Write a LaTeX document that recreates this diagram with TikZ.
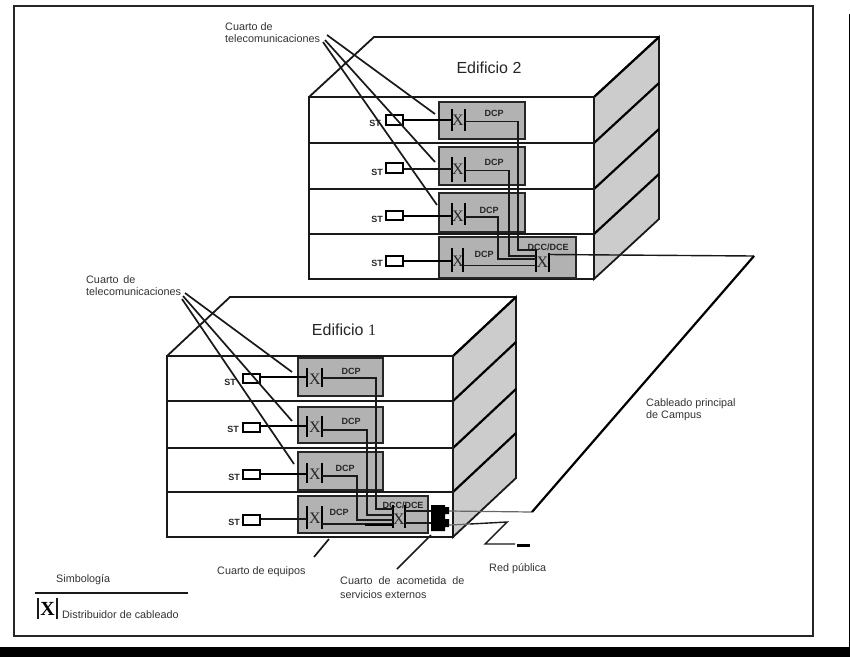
\documentclass[tikz,border=0pt]{standalone}
\usepackage{fontspec}
\setmainfont{Liberation Sans}
\newfontfamily\serifx{Liberation Serif}
\tikzset{
  lab/.style={inner sep=0pt,anchor=west,font=\fontsize{10.8}{12}\selectfont,text=black!80},
  frameline/.style={line width=2pt,draw=black!85},
  outline/.style={line width=1.8pt,draw=black!90},
  diag/.style={line width=2.2pt,draw=black},
  side/.style={outline,fill=black!20},
  roombox/.style={line width=2pt,draw=black!85,fill=black!30},
  stbox/.style={draw=black,line width=1.6pt,fill=white,inner sep=0pt},
  leader/.style={line width=1.7pt,draw=black!90},
  wire/.style={line width=1.4pt,draw=black!90},
  thick wire/.style={line width=2.4pt,draw=black},
  bar/.style={line width=1.8pt,draw=black},
  grayline/.style={line width=1.2pt,draw=black!60},
  tag/.style={inner sep=0pt,font=\bfseries\fontsize{9}{9}\selectfont,text=black!85},
  xmark/.style={inner sep=0pt,font=\serifx\fontsize{16}{16}\selectfont,text=black!85},
}
\newcommand{\bldg}[9]{%
 \fill[white] (#1,#3) -- ({#1+#8},{#3-#9}) -- ({#2+#8},{#3-#9}) -- (#2,#3) -- cycle;
 \draw[outline] (#1,#3) -- ({#1+#8},{#3-#9}) -- ({#2+#8},{#3-#9});
 \draw[side] (#2,#3) -- ({#2+#8},{#3-#9}) -- ({#2+#8},{#7-#9}) -- (#2,#7) -- cycle;
 \draw[diag] (#2,#3) -- ({#2+#8},{#3-#9});
 \draw[diag] (#2,#4) -- ({#2+#8},{#4-#9});
 \draw[diag] (#2,#5) -- ({#2+#8},{#5-#9});
 \draw[diag] (#2,#6) -- ({#2+#8},{#6-#9});
 \draw[outline,fill=white] (#1,#3) rectangle (#2,#7);
 \draw[outline] (#1,#4) -- (#2,#4);
 \draw[outline] (#1,#5) -- (#2,#5);
 \draw[outline] (#1,#6) -- (#2,#6);
}
\begin{document}
\begin{tikzpicture}[x=1pt,y=-1pt]
\useasboundingbox (0,0) rectangle (850,657);
\fill[white] (0,0) rectangle (850,657);
\fill[black] (0,647) rectangle (850,657);
\fill[black] (849,14) rectangle (850,647);
\draw[frameline] (14,6) -- (813,6) -- (813,636) -- (14,636) -- cycle;

% ---------- Edificio 2
\bldg{309}{594}{97}{143}{189}{234}{279}{65}{60}
\node[inner sep=0pt,font=\fontsize{16}{16}\selectfont,text=black!85] (e2) at (489,68) {Edificio 2};
\node[roombox,minimum width=86pt,minimum height=37pt,inner sep=0pt] (r21) at (482,120.5) {};
\node[roombox,minimum width=86pt,minimum height=38pt,inner sep=0pt] (r22) at (482,166) {};
\node[roombox,minimum width=86pt,minimum height=39pt,inner sep=0pt] (r23) at (482,212.5) {};
\node[roombox,minimum width=137pt,minimum height=41pt,inner sep=0pt] (r24) at (507.5,257.5) {};
\foreach \n/\y/\t in {1/120/120,2/168/169,3/215.5/216,4/261/261}{
  \node[stbox,minimum width=17pt,minimum height=9.5pt] (s2\n) at (394.5,\y) {};
  \node[xmark] (x2\n) at (458,\t) {X};
}
\node[tag] at (375,123) {ST};
\node[tag] at (377,172) {ST};
\node[tag] at (377,219) {ST};
\node[tag] at (377,263) {ST};
\node[xmark] (x25) at (542.5,262) {X};
\node[tag] at (494,113) {DCP};
\node[tag] at (494,162) {DCP};
\node[tag] at (489,210) {DCP};
\node[tag] at (484,254) {DCP};
\node[tag] at (548,247) {DCC/DCE};
\draw[bar] (452,109)--(452,131) (465,109)--(465,131);
\draw[bar] (452,157)--(452,182) (465,157)--(465,182);
\draw[bar] (452,203)--(452,225) (465,203)--(465,225);
\draw[bar] (452,248)--(452,272) (463,248)--(463,272);
\draw[bar] (536,250)--(536,272) (549,253)--(549,272);
\draw[thick wire] (s21.east |- 0,120) -- (452,120);
\draw[wire] (s22.east |- 0,169) -- (452,169);
\draw[thick wire] (s23.east |- 0,216) -- (452,216);
\draw[thick wire] (s24.east |- 0,261) -- (452,261);
\draw[wire] (465,121.5) -- (518,121.5) -- (518,250) -- (536,250);
\draw[wire] (465,170.5) -- (509,170.5) -- (509,256) -- (536,256);
\draw[wire] (465,217) -- (498,217) -- (498,259) -- (536,259);
\draw[wire] (463,265.5) -- (536,265.5);
\coordinate (cp) at (754,256);
\coordinate (cq) at (532,512);
\draw[wire] (549,254.5) -- (cp);
\coordinate (l21) at (435,114);\coordinate (l22) at (435,162);\coordinate (l23) at (437,205);
\draw[leader] (327,35) -- (l21) (325,40) -- (l22) (323,42) -- (l23);
\node[lab] (t21) at (225,27) {Cuarto de};
\node[lab] (t22) at (225,39) {telecomunicaciones};

% ---------- Edificio 1
\bldg{167}{453}{356}{401}{448}{492}{537}{63}{59}
\node[inner sep=0pt,font=\fontsize{16}{16}\selectfont,text=black!85] (e1) at (344,330) {Edificio {\serifx 1}};
\node[roombox,minimum width=85pt,minimum height=38pt,inner sep=0pt] (r11) at (340.5,377) {};
\node[roombox,minimum width=85pt,minimum height=36pt,inner sep=0pt] (r12) at (340.5,425) {};
\node[roombox,minimum width=85pt,minimum height=38pt,inner sep=0pt] (r13) at (340.5,471) {};
\node[roombox,minimum width=130pt,minimum height=37pt,inner sep=0pt] (r14) at (363,514.5) {};
\foreach \n/\y/\t in {1/378.5/379,2/427.5/427,3/474.5/474,4/520/518}{
  \node[stbox,minimum width=17pt,minimum height=9.5pt] (s1\n) at (251.5,\y) {};
  \node[xmark] (x1\n) at (315,\t) {X};
}
\node[tag] at (230,382) {ST};
\node[tag] at (233,429) {ST};
\node[tag] at (234,477) {ST};
\node[tag] at (234,522) {ST};
\node[xmark] (x15) at (399,519) {X};
\node[tag] at (351,371) {DCP};
\node[tag] at (351,421) {DCP};
\node[tag] at (345,468) {DCP};
\node[tag] at (339,512) {DCP};
\node[tag] at (403,505) {DCC/DCE};
\draw[bar] (307,368)--(307,387) (322,368)--(322,387);
\draw[bar] (307,416)--(307,437) (322,416)--(322,437);
\draw[bar] (307,463)--(307,483) (322,463)--(322,483);
\draw[bar] (307,506)--(307,529) (322,506)--(322,529);
\draw[bar] (393,505)--(393,528) (405,505)--(405,528);
\draw[thick wire] (s11.east |- 0,377) -- (307,377);
\draw[thick wire] (s12.east |- 0,426) -- (307,426);
\draw[thick wire] (s13.east |- 0,474) -- (307,474);
\draw[wire] (s14.east |- 0,519) -- (307,519);
\draw[wire] (322,378) -- (376,378) -- (376,509) -- (393,509);
\draw[wire] (322,430) -- (367,430) -- (367,515) -- (393,515);
\draw[wire] (322,476) -- (357,476) -- (357,520) -- (393,520);
\draw[wire] (322,524) -- (393,524);
\draw[thick wire] (365,525) -- (393,525);
\coordinate (l11) at (292,372);\coordinate (l12) at (292,421);\coordinate (l13) at (294,464);
\draw[leader] (185,293) -- (l11) (183,296) -- (l12) (182,299) -- (l13);
\node[lab] (t11) at (86,280) {Cuarto\, de};
\node[lab] (t12) at (86,292) {telecomunicaciones};

% entrance block
\fill[black] (431,505) rectangle (445,531) (445,507) rectangle (449,514) (445,519) rectangle (449,527);
\coordinate (en1) at (449,511);\coordinate (en2) at (449,525);
\draw[wire] (405,511) -- (431,511) (405,523) -- (431,523);
\draw[grayline] (en1) -- (cq);
\draw[diag] (cq) -- (cp);
\draw[grayline] (en2) -- (470,524);
\draw[wire] (470,524) -- (507,522) -- (485,544) -- (515,544);
\draw[thick wire] (517,545.5) -- (530,545.5);

% lower leaders
\coordinate (a1) at (329,539);\coordinate (a2) at (314,557);
\draw[leader] (a1) -- (a2);
\coordinate (b1) at (431,535);\coordinate (b2) at (397,569);
\draw[leader] (b1) -- (b2);

\node[lab] (c1) at (646,404) {Cableado principal};
\node[lab] (c2) at (646,416) {de Campus};
\node[lab] (d1) at (217,572) {Cuarto de equipos};
\node[lab] (d2) at (340,581) {Cuarto\ \ de\ \ acometida\ \ de};
\node[lab] (d3) at (340,595) {servicios externos};
\node[lab] (d4) at (489,569) {Red pública};
\node[lab] (d5) at (56,580) {Simbología};
\draw[line width=2pt,draw=black!90] (35,593) -- (188,593);
\draw[line width=2pt,draw=black!90] (37.5,598) -- (37.5,619) (57,598) -- (57,619);
\node[inner sep=0pt,font=\serifx\bfseries\fontsize{20}{20}\selectfont] (d6) at (47.5,609) {X};
\node[lab] (d7) at (62,615) {Distribuidor de cableado};
\end{tikzpicture}
\end{document}
